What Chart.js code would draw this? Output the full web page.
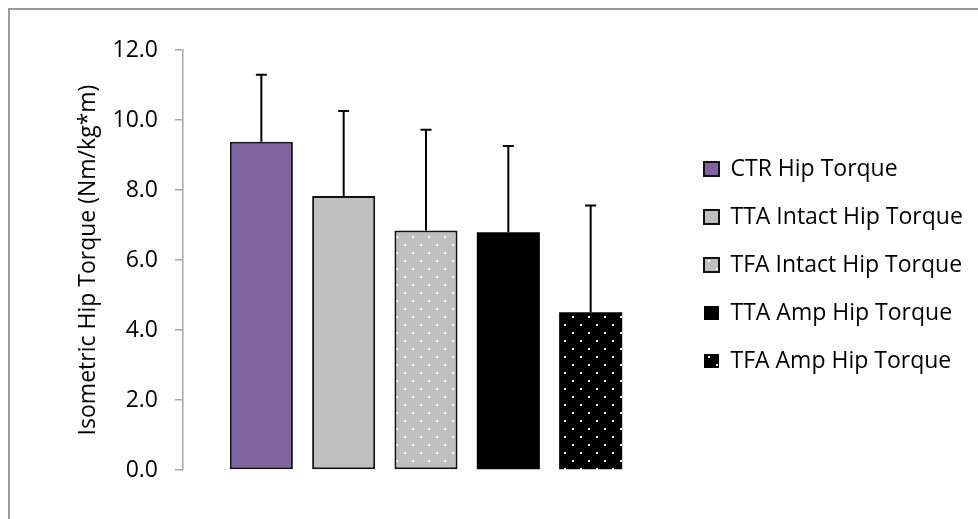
<!DOCTYPE html>
<html>
<head>
<meta charset="utf-8">
<script src="https://cdn.jsdelivr.net/npm/chart.js@4/dist/chart.umd.min.js"></script>
<style>
  html, body { margin: 0; padding: 0; background: #fff; overflow: hidden; }
  #wrap { position: relative; width: 978px; height: 519px; }
  #frame { position: absolute; left: 8px; top: 8px; width: 1200px; height: 800px;
           border-top: 2px solid #9a9a9a; border-left: 2px solid #9a9a9a; }
  canvas { position: absolute; left: 0; top: 0; }
</style>
</head>
<body>
<div id="wrap">
  <div id="frame"></div>
  <canvas id="myChart" width="978" height="519"></canvas>
</div>
<script>
// groups and their mean / SD torque values
var groups = ['CTR Hip Torque', 'TTA Intact Hip Torque', 'TFA Intact Hip Torque', 'TTA Amp Hip Torque', 'TFA Amp Hip Torque'];
var meanTorque = [9.38, 7.83, 6.84, 6.79, 4.51];
var sdTorque = [1.91, 2.43, 2.88, 2.47, 3.05];
var yTickLabels = ['0.0', '2.0', '4.0', '6.0', '8.0', '10.0', '12.0'];

var font = { family: 'Open Sans', size: 23 };

// white dot fill over a base colour
function dots(base) {
    var c = document.createElement('canvas');
    c.width = 16; c.height = 16;
    var g = c.getContext('2d');
    g.fillStyle = base;
    g.fillRect(0, 0, 16, 16);
    g.fillStyle = '#fff';
    g.fillRect(4, 4, 2, 2);
    g.fillRect(12, 12, 2, 2);
    return g.createPattern(c, 'repeat');
}

var fills = ['#8064A2', '#BFBFBF', dots('#BFBFBF'), '#000000', dots('#000000')];
var borders = [2, 2, 2, 0, 0];

var datasets = groups.map(function (name, i) {
    return {
        label: name,
        data: [meanTorque[i]],
        sd: [sdTorque[i]],
        backgroundColor: fills[i],
        borderColor: '#111',
        borderWidth: borders[i],
        borderSkipped: false,
        categoryPercentage: 0.847,
        barPercentage: 0.766
    };
});

// upper SD whiskers on top of each bar
var errorBars = {
    id: 'errorBars',
    afterDatasetsDraw: function (chart) {
        var ctx = chart.ctx;
        var yScale = chart.scales.y;
        ctx.save();
        ctx.strokeStyle = '#000';
        ctx.lineWidth = 2;
        chart.data.datasets.forEach(function (ds, di) {
            var meta = chart.getDatasetMeta(di);
            meta.data.forEach(function (bar, j) {
                var top = yScale.getPixelForValue(ds.data[j] + ds.sd[j]);
                ctx.beginPath();
                ctx.moveTo(bar.x, bar.y);
                ctx.lineTo(bar.x, top);
                ctx.moveTo(bar.x - 5.5, top);
                ctx.lineTo(bar.x + 5.5, top);
                ctx.stroke();
            });
        });
        ctx.restore();
    }
};

// move the legend block right / down a touch
var legendShift = {
    id: 'legendShift',
    afterLayout: function (chart) {
        var lg = chart.legend;
        lg.left += 10; lg.right += 10;
        lg.top += 5; lg.bottom += 5;
    }
};

var ctx = document.getElementById('myChart');
var myChart = new Chart(ctx, {
    type: 'bar',
    data: { labels: [''], datasets: datasets },
    plugins: [errorBars, legendShift],
    options: {
        responsive: false,
        animation: false,
        layout: { padding: { left: 0, top: 50, bottom: 49, right: 19 } },
        plugins: {
            tooltip: { enabled: false },
            legend: {
                position: 'right',
                maxWidth: 290,
                labels: {
                    font: font,
                    color: '#000',
                    boxWidth: 15,
                    boxHeight: 14,
                    padding: 25
                }
            }
        },
        scales: {
            x: { display: false },
            y: {
                min: 0,
                max: 12,
                ticks: {
                    stepSize: 2,
                    padding: 17,
                    color: '#000',
                    font: font,
                    callback: function (v, i) { return yTickLabels[i]; }
                },
                grid: { drawOnChartArea: false, tickLength: 8, color: '#A6A6A6', lineWidth: 1.5 },
                border: { color: '#A6A6A6', width: 1.5 },
                title: {
                    display: true,
                    text: 'Isometric Hip Torque (Nm/kg*m)',
                    color: '#000',
                    font: font,
                    padding: { top: 75, bottom: 0 }
                },
                afterFit: function (scale) { scale.width = 183; }
            }
        }
    }
});
</script>
</body>
</html>
